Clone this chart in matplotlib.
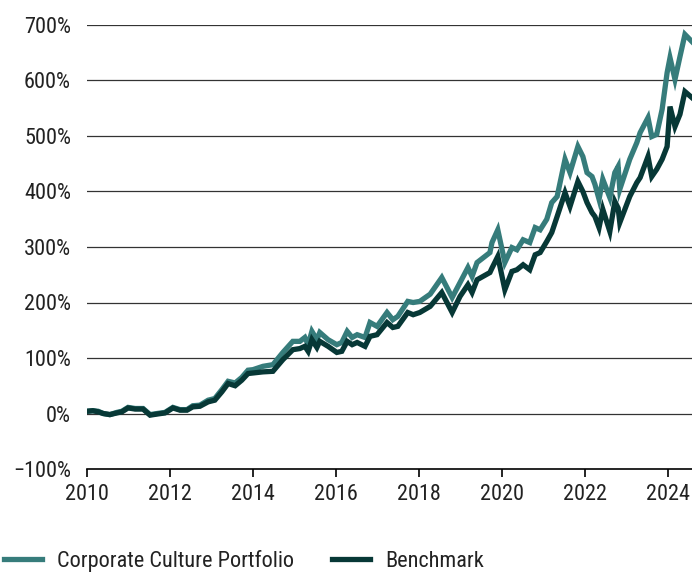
import matplotlib
matplotlib.use("Agg")
from matplotlib import pyplot as plt
from matplotlib.ticker import FuncFormatter

plt.rcParams['font.family'] = ['Roboto Condensed', 'Liberation Sans', 'DejaVu Sans']

# x positions in decimal years, values in cumulative % return
years = [2010.00, 2010.14, 2010.27, 2010.39, 2010.55, 2010.72, 2010.84, 2010.99,
         2011.16, 2011.35, 2011.52, 2011.69, 2011.88, 2012.07, 2012.24, 2012.41,
         2012.55, 2012.72, 2012.92, 2013.08, 2013.25, 2013.40, 2013.57, 2013.73,
         2013.88, 2014.00, 2014.24, 2014.48, 2014.72, 2014.96, 2015.13, 2015.25,
         2015.33, 2015.42, 2015.54, 2015.61, 2015.81, 2016.02, 2016.14, 2016.27,
         2016.39, 2016.51, 2016.70, 2016.82, 2016.99, 2017.23, 2017.37, 2017.49,
         2017.73, 2017.86, 2018.02, 2018.27, 2018.55, 2018.80, 2018.99, 2019.18,
         2019.28, 2019.40, 2019.71, 2019.76, 2019.90, 2020.07, 2020.24, 2020.36,
         2020.51, 2020.67, 2020.80, 2020.92, 2021.08, 2021.20, 2021.33, 2021.52,
         2021.64, 2021.83, 2021.95, 2022.05, 2022.17, 2022.24, 2022.34, 2022.43,
         2022.60, 2022.72, 2022.80, 2022.84, 2023.08, 2023.25, 2023.33, 2023.52,
         2023.61, 2023.73, 2023.86, 2023.98, 2024.05, 2024.17, 2024.29, 2024.41,
         2024.58]

portfolio = [4, 5, 4, 0, -2, 2, 4, 11,
             9, 9, -2, 0, 2, 11, 7, 7,
             14, 15, 24, 27, 43, 58, 55, 65,
             78, 79, 85, 88, 110, 130, 130, 137,
             124, 148, 133, 146, 133, 124, 128, 148,
             137, 142, 137, 164, 157, 182, 169, 175,
             202, 200, 202, 215, 245, 209, 236, 263,
             247, 272, 290, 308, 331, 272, 299, 295,
             313, 308, 335, 331, 350, 380, 391, 458,
             434, 481, 463, 434, 427, 413, 386, 422,
             389, 434, 445, 404, 458, 488, 506, 533,
             499, 503, 548, 614, 641, 602, 643, 683,
             670]

benchmark = [4, 5, 3, 0, -2, 1, 3, 10,
             8, 8, -3, -1, 1, 10, 6, 6,
             12, 13, 21, 24, 39, 54, 50, 60,
             72, 73, 75, 76, 97, 115, 117, 121,
             112, 133, 119, 130, 121, 110, 112, 130,
             124, 128, 121, 139, 142, 164, 155, 157,
             182, 178, 182, 193, 218, 182, 211, 232,
             218, 241, 254, 262, 283, 223, 256, 259,
             268, 259, 286, 290, 310, 326, 355, 398,
             373, 418, 400, 380, 362, 355, 335, 368,
             328, 382, 370, 344, 391, 416, 425, 463,
             427, 440, 458, 481, 553, 517, 539, 580,
             569]

xticks = [2010, 2012, 2014, 2016, 2018, 2020, 2022, 2024]
yticks = [-100, 0, 100, 200, 300, 400, 500, 600, 700]

teal = '#367c7b'
dark = '#073836'

fig = plt.figure(figsize=(6.92, 5.74), dpi=100)
ax = fig.add_axes([87 / 692, 1 - 469 / 574, 1 - 87 / 692, (469 - 25) / 574])

ax.plot(years, portfolio, color=teal, lw=3.8, solid_joinstyle='miter',
        label='Corporate Culture Portfolio', zorder=3)
ax.plot(years, benchmark, color=dark, lw=3.8, solid_joinstyle='miter',
        label='Benchmark', zorder=4)

ax.set_xlim(2010, 2024.58)
ax.set_ylim(-100, 700)
ax.set_xticks(xticks)
ax.set_yticks(yticks)
ax.yaxis.set_major_formatter(FuncFormatter(
    lambda v, p: ('\u2212%d%%' % abs(v)) if v < 0 else '%d%%' % v))

for v in yticks[1:]:
    ax.axhline(v, color='#333333', lw=0.9, zorder=1)

for s in ['top', 'right', 'left']:
    ax.spines[s].set_visible(False)
ax.spines['bottom'].set_color('black')
ax.spines['bottom'].set_linewidth(1.2)

ax.tick_params(axis='x', direction='out', length=5.5, width=1.2, pad=5,
               labelsize=16, colors='black', labelcolor='#222222')
ax.tick_params(axis='y', length=0, pad=11.5, labelsize=16, labelcolor='#222222')

fig.legend(loc='center left', bbox_to_anchor=(0.006, 1 - 561 / 574), ncol=2,
           frameon=False, fontsize=16, handlelength=1.7, handletextpad=0.7,
           columnspacing=1.7, borderaxespad=0.0, borderpad=0.0,
           labelcolor='#222222')

fig.savefig('out.png', dpi=100)
